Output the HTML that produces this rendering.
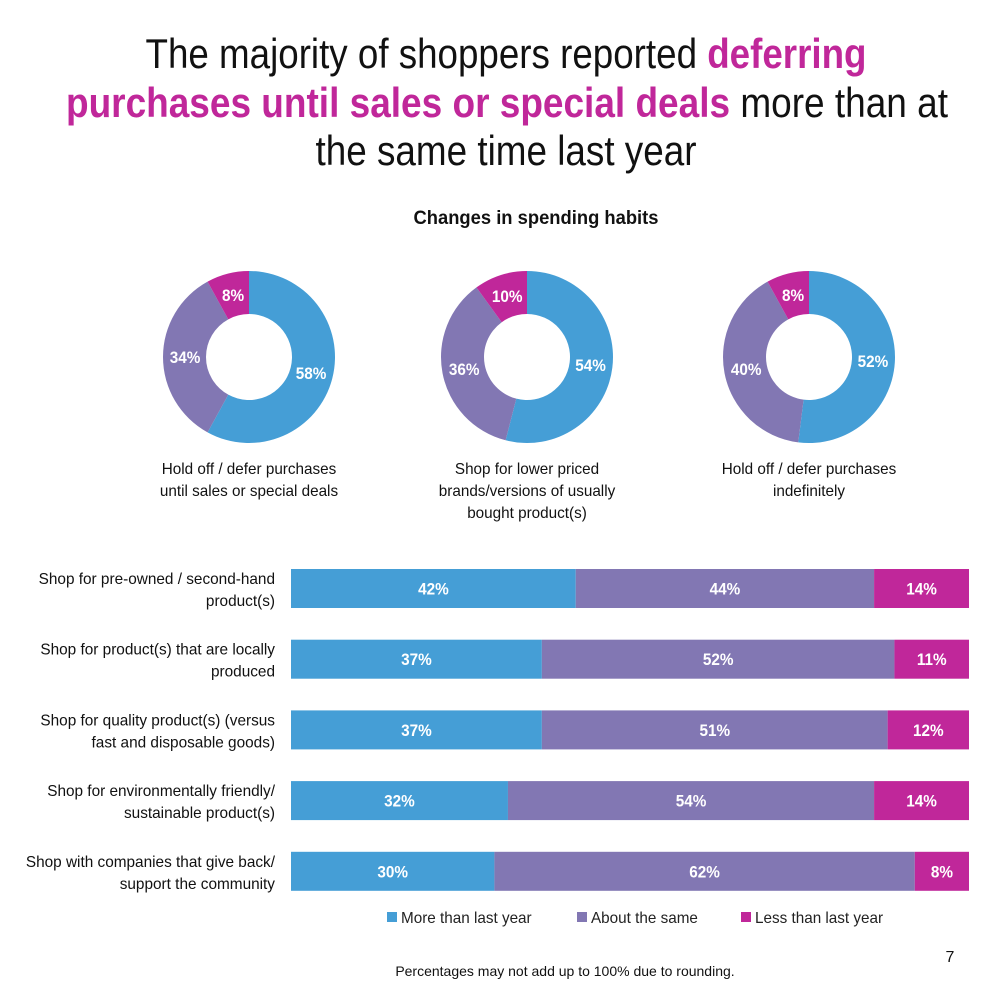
<!DOCTYPE html>
<html><head><meta charset="utf-8"><style>
html,body{margin:0;padding:0;background:#fff}
svg{display:block;font-family:"Liberation Sans Narrow","Liberation Sans",Arial,sans-serif}
</style></head><body>
<svg id="chart" width="988" height="996" viewBox="0 0 988 996">
<g font-size="42" fill="#111" text-anchor="middle">
<text x="506" y="68" textLength="721" lengthAdjust="spacingAndGlyphs">The majority of shoppers reported <tspan fill="#c0279a" font-weight="bold">deferring</tspan></text>
<text x="507" y="117" textLength="882" lengthAdjust="spacingAndGlyphs"><tspan fill="#c0279a" font-weight="bold">purchases until sales or special deals</tspan> more than at</text>
<text x="506" y="165" textLength="381" lengthAdjust="spacingAndGlyphs">the same time last year</text>
</g>
<text x="536" y="224" font-size="19" font-weight="bold" text-anchor="middle" fill="#111" textLength="245" lengthAdjust="spacingAndGlyphs">Changes in spending habits</text>
<g id="donuts"></g>
<g id="bars"></g>
<g font-size="16" fill="#222">
<rect x="387" y="912" width="10" height="10" fill="#459ed6"/>
<text transform="translate(401,923) scale(0.955,1)">More than last year</text>
<rect x="577" y="912" width="10" height="10" fill="#8277b3"/>
<text transform="translate(591,923) scale(0.955,1)">About the same</text>
<rect x="741" y="912" width="10" height="10" fill="#c0279a"/>
<text transform="translate(755,923) scale(0.955,1)">Less than last year</text>
</g>
<text x="950" y="962" font-size="16" text-anchor="middle" fill="#111">7</text>
<text x="565" y="976" font-size="14" text-anchor="middle" fill="#111">Percentages may not add up to 100% due to rounding.</text>
</svg>
<script>
const colors=["#459ed6","#8277b3","#c0279a"];
const donutCaptions=[["Hold off / defer purchases","until sales or special deals"],["Shop for lower priced","brands/versions of usually","bought product(s)"],["Hold off / defer purchases","indefinitely"]];
const donutMore=[58,54,52];
const donutSame=[34,36,40];
const donutLess=[8,10,8];
const barCategories=[["Shop for pre-owned / second-hand","product(s)"],["Shop for product(s) that are locally","produced"],["Shop for quality product(s) (versus","fast and disposable goods)"],["Shop for environmentally friendly/","sustainable product(s)"],["Shop with companies that give back/","support the community"]];
const barMore=[42,37,37,32,30];
const barSame=[44,52,51,54,62];
const barLess=[14,11,12,14,8];
const NS="http://www.w3.org/2000/svg";
function mk(tag,attrs,parent){const e=document.createElementNS(NS,tag);for(const k in attrs)e.setAttribute(k,attrs[k]);parent.appendChild(e);return e;}
const dg=document.getElementById('donuts');
const centersX=[249,527,809],cy=357,R=86,r=43,LR=64;
function pt(rad,frac,cx){const a=frac*2*Math.PI;return [cx+rad*Math.sin(a),cy-rad*Math.cos(a)];}
const segNames=["more","same","less"];
for(let i=0;i<3;i++){
  const vals=[donutMore[i],donutSame[i],donutLess[i]];
  const tot=vals[0]+vals[1]+vals[2];
  let acc=0;const cx=centersX[i];
  for(let j=0;j<3;j++){
    const f0=acc/tot,f1=(acc+vals[j])/tot;acc+=vals[j];
    const [x0,y0]=pt(R,f0,cx),[x1,y1]=pt(R,f1,cx),[x2,y2]=pt(r,f1,cx),[x3,y3]=pt(r,f0,cx);
    const lg=(f1-f0)>0.5?1:0;
    const p=mk('path',{d:`M${x0},${y0}A${R},${R} 0 ${lg} 1 ${x1},${y1}L${x2},${y2}A${r},${r} 0 ${lg} 0 ${x3},${y3}Z`,fill:colors[j]},dg);
    
    
    const [lx,ly]=pt(LR,(f0+f1)/2,cx);
    const t=mk('text',{transform:`translate(${lx},${ly+6}) scale(0.9,1)`,'font-size':17,'font-weight':'bold',fill:'#fff','text-anchor':'middle'},dg);
    t.textContent=vals[j]+'%';
    
    
  }
  donutCaptions[i].forEach((ln,k)=>{
    const t=mk('text',{transform:`translate(${cx},${474+k*22}) scale(0.955,1)`,'font-size':16,fill:'#111','text-anchor':'middle'},dg);
    t.textContent=ln;
    
    
  });
}
const bg=document.getElementById('bars');
const bx0=291,bw=678,by0=569,bh=39,step=70.7;
for(let i=0;i<barCategories.length;i++){
  const vals=[barMore[i],barSame[i],barLess[i]];
  const tot=vals[0]+vals[1]+vals[2];
  const y=by0+i*step;let acc=0;
  for(let j=0;j<3;j++){
    const x=bx0+acc/tot*bw,w=vals[j]/tot*bw;acc+=vals[j];
    const rc=mk('rect',{x:x,y:y,width:w,height:bh,fill:colors[j]},bg);
    
    
    const t=mk('text',{transform:`translate(${x+w/2},${y+bh/2+6}) scale(0.9,1)`,'font-size':17,'font-weight':'bold',fill:'#fff','text-anchor':'middle'},bg);
    t.textContent=vals[j]+'%';
    
    
  }
  barCategories[i].forEach((ln,k)=>{
    const t=mk('text',{transform:`translate(275,${y+15+k*22}) scale(0.96,1)`,'font-size':16,fill:'#111','text-anchor':'end'},bg);
    t.textContent=ln;
    
    
  });
}
</script>
</body></html>
